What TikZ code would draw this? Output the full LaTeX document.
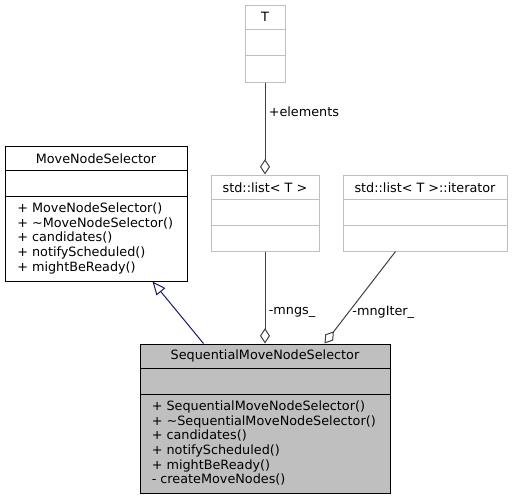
\documentclass[tikz,border=0pt]{standalone}
\usepackage{fontspec}
\setmainfont{DejaVu Sans}
\usetikzlibrary{arrows.meta}
\definecolor{boxgray}{HTML}{BFBFBF}
\definecolor{edgegray}{HTML}{404040}
\definecolor{inhblue}{HTML}{191970}

\begin{document}
\begin{tikzpicture}[x=0.75pt, y=-0.75pt,
  every node/.style={font=\fontsize{9.6}{11}\selectfont, inner sep=0pt},
  cls/.style={draw, rectangle, line width=0.75pt},
  comp/.style={draw=edgegray, line width=0.75pt, -{Diamond[open, length=11.5pt, width=7.5pt]}},
  inh/.style={draw=inhblue, line width=0.75pt, -{Triangle[open, length=10pt, width=8.5pt]}},
  lbl/.style={anchor=west, xshift=2.5pt}]
  \useasboundingbox (0,0) rectangle (513,500);

  % class boxes
  \node [cls, draw=boxgray, minimum width=30pt, minimum height=57.75pt] (t) at (265, 43.5) {};
  \node [cls, draw=boxgray, minimum width=81pt, minimum height=57pt] (lst) at (265, 213) {};
  \node [cls, draw=boxgray, minimum width=123pt, minimum height=57pt] (iter) at (425, 213) {};
  \node [cls, draw=black, minimum width=136.5pt, minimum height=101.25pt] (mns) at (96, 213.5) {};
  \node [cls, draw=black, fill=boxgray, minimum width=187.5pt, minimum height=111.75pt] (seq) at (265, 418.5) {};

  % compartments
  \foreach \b/\c in {t/boxgray, lst/boxgray, iter/boxgray, mns/black, seq/black} {
    \draw [\c, line width=0.75pt] ([yshift=-19.1pt]\b.north west) -- ([yshift=-19.1pt]\b.north east);
    \draw [\c, line width=0.75pt] ([yshift=-38.3pt]\b.north west) -- ([yshift=-38.3pt]\b.north east);
  }

  % titles
  \node (tName) at ([yshift=-9.6pt]t.north) {T};
  \node (lstName) at ([yshift=-9.6pt]lst.north) {std::list< T >};
  \node (iterName) at ([yshift=-9.6pt]iter.north) {std::list< T >::iterator};
  \node (mnsName) at ([yshift=-9.6pt]mns.north) {MoveNodeSelector};
  \node (seqName) at ([yshift=-9.6pt]seq.north) {SequentialMoveNodeSelector};

  % operations
  \node [anchor=north west, align=left] (mnsOps) at (17, 202.5)
    {+ MoveNodeSelector()\\+ \textasciitilde MoveNodeSelector()\\+ candidates()\\+ notifyScheduled()\\+ mightBeReady()};
  \node [anchor=north west, align=left] (seqOps) at (151.5, 400.5)
    {+ SequentialMoveNodeSelector()\\+ \textasciitilde SequentialMoveNodeSelector()\\+ candidates()\\+ notifyScheduled()\\+ mightBeReady()\\- createMoveNodes()};

  % relations
  \draw [comp] (t.south) -- node [lbl, pos=0.32] {+elements} (lst.north);
  \draw [comp] (lst.south) -- node [lbl, pos=0.66] {-mngs\_} (seq.north);
  \draw [comp] ([xshift=39.75pt]iter.south west) -- node [lbl, pos=0.66] {-mngIter\_} ([xshift=138.75pt]seq.north west);
  \draw [inh] ([xshift=48pt]seq.north west) -- ([xshift=-26.25pt]mns.south east);
\end{tikzpicture}
\end{document}
